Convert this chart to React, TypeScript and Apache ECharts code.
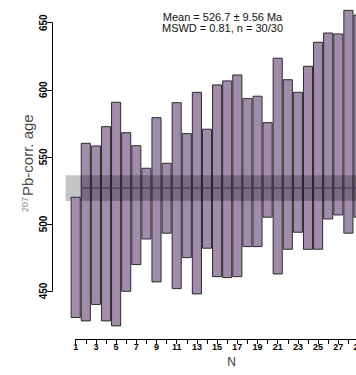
import React, { useEffect, useRef } from "react";
import * as echarts from "echarts";

// ---- data ----
const sampleIndex = [1,2,3,4,5,6,7,8,9,10,11,12,13,14,15,16,17,18,19,20,21,22,23,24,25,26,27,28,29,30];
const lowerAge = [430.2,427.7,440.0,427.7,424.0,449.8,469.7,488.8,456.8,493.1,451.8,474.9,447.8,481.9,460.7,460.0,460.7,483.1,483.1,505.0,462.7,481.1,493.8,481.1,481.1,503.7,506.7,493.1,505.0,500.0];
const upperAge = [519.9,560.1,558.1,572.5,590.7,568.0,558.3,541.5,579.2,545.2,590.4,567.3,598.1,570.6,603.6,606.6,611.0,593.4,595.2,575.5,623.5,607.5,598.1,617.5,635.4,642.3,641.6,659.2,655.7,650.0];
const meanAge = 526.7;
const meanErr = 9.56;
const mswd = 0.81;
const nUsed = 30;
const nTotal = 30;
const yTicks = { min: 450, max: 650, step: 50 };
const xTicks = { min: 1, max: 30, step: 1 };

const BAR_FILL = "#a18cab";
const BAR_STROKE = "#2b2b2b";
const BAND_FILL = "#c4c4c4";
const DARK = "rgba(0,0,0,0.24)";
const MEAN_LINE = "#46324f";

export default function App() {
  const ref = useRef<HTMLDivElement>(null);
  useEffect(() => {
    if (!ref.current) return;
    const chart = echarts.init(ref.current, null, { renderer: "svg" });
    const bandLo = meanAge - meanErr;
    const bandHi = meanAge + meanErr;
    const half = 0.45;

    const barData = sampleIndex.map((n, i) => [n, lowerAge[i], upperAge[i]]);

    chart.setOption({
      animation: false,
      grid: { left: 75.7, top: 22.7, width: 292.9, height: 268.3 },
      xAxis: {
        type: "value",
        min: xTicks.min,
        max: xTicks.max,
        interval: xTicks.step,
        offset: 48,
        axisLine: { show: true, lineStyle: { color: "#000", width: 1 } },
        axisTick: { show: true, length: 5, lineStyle: { color: "#000", width: 1 } },
        axisLabel: {
          fontSize: 9,
          fontWeight: "bold",
          color: "#000",
          margin: 3,
          fontFamily: "Liberation Sans, Arial, sans-serif",
          formatter: (v: number) => (v % 2 === 1 ? String(v) : ""),
        },
        splitLine: { show: false },
      },
      yAxis: {
        type: "value",
        min: yTicks.min,
        max: yTicks.max,
        interval: yTicks.step,
        offset: 23.4,
        axisLine: { show: true, lineStyle: { color: "#000", width: 1 } },
        axisTick: { show: true, length: 5, lineStyle: { color: "#000", width: 1 } },
        axisLabel: {
          rotate: 90,
          fontSize: 10,
          fontWeight: "bold",
          color: "#000",
          margin: 4,
          fontFamily: "Liberation Sans, Arial, sans-serif",
        },
        splitLine: { show: false },
      },
      graphic: [
        {
          type: "text",
          x: 222.5,
          y: 11,
          style: {
            text: `Mean = ${meanAge} ± ${meanErr} Ma`,
            font: '11px "Liberation Sans", Arial, sans-serif',
            fill: "#111",
            textAlign: "center",
          },
        },
        {
          type: "text",
          x: 222.5,
          y: 22,
          style: {
            text: `MSWD = ${mswd}, n = ${nUsed}/${nTotal}`,
            font: '11px "Liberation Sans", Arial, sans-serif',
            fill: "#111",
            textAlign: "center",
          },
        },
        {
          type: "group",
          x: 35,
          y: 212,
          rotation: Math.PI / 2,
          children: [
            {
              type: "text",
              x: 0,
              y: -6,
              style: {
                text: "207",
                font: '9px "Liberation Sans", Arial, sans-serif',
                fill: "#8a8a8a",
                textVerticalAlign: "bottom",
              },
            },
            {
              type: "text",
              x: 16,
              y: 0,
              style: {
                text: "Pb-corr. age",
                font: '15px "Liberation Sans", Arial, sans-serif',
                fill: "#4a4a4a",
                textVerticalAlign: "bottom",
              },
            },
          ],
        },
        {
          type: "text",
          x: 231.7,
          y: 362,
          style: {
            text: "N",
            font: '12px "Liberation Sans", Arial, sans-serif',
            fill: "#333",
            textAlign: "center",
            textVerticalAlign: "middle",
          },
        },
      ],
      series: [
        {
          type: "custom",
          clip: false,
          z: 1,
          data: [[0, 31, bandLo, bandHi]],
          renderItem: (params: any, api: any) => {
            const p1 = api.coord([api.value(0), api.value(3)]);
            const p2 = api.coord([api.value(1), api.value(2)]);
            return {
              type: "rect",
              shape: { x: p1[0], y: p1[1], width: p2[0] - p1[0], height: p2[1] - p1[1] },
              style: { fill: BAND_FILL },
            };
          },
        },
        {
          type: "custom",
          clip: false,
          z: 2,
          data: barData,
          renderItem: (params: any, api: any) => {
            const x = api.value(0);
            const lo = api.value(1);
            const hi = api.value(2);
            const p1 = api.coord([x - half, hi]);
            const p2 = api.coord([x + half, lo]);
            const children: any[] = [
              {
                type: "rect",
                shape: { x: p1[0], y: p1[1], width: p2[0] - p1[0], height: p2[1] - p1[1] },
                style: { fill: BAR_FILL, stroke: BAR_STROKE, lineWidth: 1 },
              },
            ];
            const oLo = Math.max(lo, bandLo);
            const oHi = Math.min(hi, bandHi);
            if (x >= 2 && oHi > oLo) {
              const q1 = api.coord([x - half, oHi]);
              const q2 = api.coord([x + half, oLo]);
              children.push({
                type: "rect",
                shape: { x: q1[0] - 0.5, y: q1[1], width: q2[0] - q1[0] + 1, height: q2[1] - q1[1] },
                style: { fill: DARK },
              });
            }
            return { type: "group", children };
          },
        },
        {
          type: "custom",
          clip: false,
          z: 3,
          data: [[2 - half, 31, meanAge]],
          renderItem: (params: any, api: any) => {
            const p1 = api.coord([api.value(0), api.value(2)]);
            const p2 = api.coord([api.value(1), api.value(2)]);
            return {
              type: "line",
              shape: { x1: p1[0], y1: p1[1], x2: p2[0], y2: p2[1] },
              style: { stroke: MEAN_LINE, lineWidth: 1 },
            };
          },
        },
      ],
    });
    return () => chart.dispose();
  }, []);

  return (
    <div style={{ position: "fixed", left: 0, top: 0, width: 356, height: 375, overflow: "hidden", background: "#fff" }}>
      <div ref={ref} style={{ width: 420, height: 375 }} />
    </div>
  );
}
